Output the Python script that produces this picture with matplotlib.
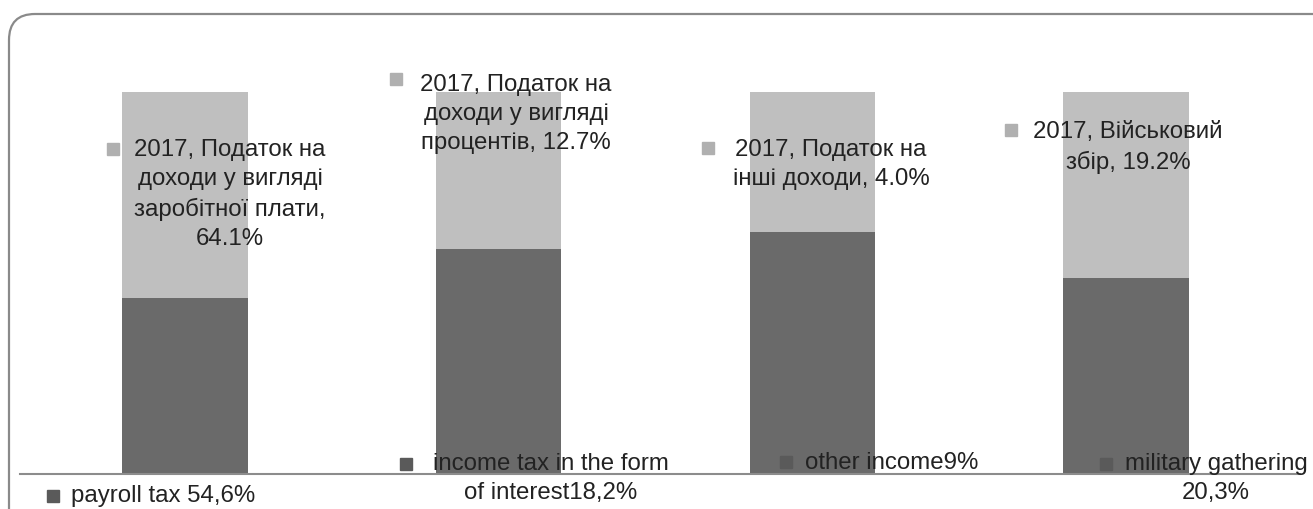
import matplotlib
matplotlib.use("Agg")
import matplotlib.pyplot as plt
from matplotlib.patches import FancyBboxPatch, Rectangle
from matplotlib.lines import Line2D

# values (share of each bar, 2017 vs category share)
categories = ["payroll", "interest", "other", "military"]
dark_values = [54.6, 18.2, 6.9, 20.3]
light_values = [64.1, 12.7, 4.0, 19.2]
light_labels = [
    "2017, Податок на\nдоходи у вигляді\nзаробітної плати,\n64.1%",
    "2017, Податок на\nдоходи у вигляді\nпроцентів, 12.7%",
    "2017, Податок на\nінші доходи, 4.0%",
    "2017, Військовий\nзбір, 19.2%",
]
dark_labels = [
    "payroll tax 54,6%",
    "income tax in the form\nof interest18,2%",
    "other income9%",
    "military gathering\n20,3%",
]

W, H = 1313, 509
DARK = "#6a6a6a"
LIGHT = "#bfbfbf"
FONT = ["Liberation Sans", "DejaVu Sans"]


def px(x, y):
    return x / W, 1 - y / H


fig = plt.figure(figsize=(W / 100, H / 100), dpi=100)

# rounded chart border running off the right and bottom edges (pixel coords)
border = FancyBboxPatch((9, -60), 1500, H - 14 + 60,
                        boxstyle="round,pad=0,rounding_size=26",
                        transform=None, fill=False,
                        edgecolor="#8a8a8a", linewidth=1.6)
fig.patches.append(border)

ax = fig.add_axes([28 / W, (H - 474) / H, 1255 / W, 382 / H])
totals = [d + l for d, l in zip(dark_values, light_values)]
dark_share = [d / t for d, t in zip(dark_values, totals)]
light_share = [l / t for l, t in zip(light_values, totals)]
x = range(len(categories))
ax.bar(x, dark_share, 0.4, color=DARK, zorder=2)
ax.bar(x, light_share, 0.4, bottom=dark_share, color=LIGHT, zorder=2)
ax.set_xlim(-0.5, len(categories) - 0.5)
ax.set_ylim(0, 1)
ax.axis("off")

fig.lines.append(Line2D([20 / W, 1300 / W], [1 - 474 / H] * 2,
                        color="#8c8c8c", linewidth=1.5, transform=fig.transFigure))

# label layout: (text center x, first line center y, marker x, marker y)
light_pos = [(230, 150, 107, 149), (516, 85, 390, 79), (831, 150, 702, 148), (1128, 132, 1005, 130)]
dark_pos = [(163, 496, 47, 496), (551, 464, 400, 464), (892, 463, 780, 462), (1216, 464, 1100, 464)]


def label(text, pos, mcolor):
    cx, cy, mx, my = pos
    fig.text(*px(cx, cy - 11), text, ha="center", va="top", multialignment="center",
             fontsize=17.3, family=FONT, color="#222222", linespacing=1.42)
    fig.patches.append(Rectangle(px(mx, my + 6), 12 / W, 12 / H, color=mcolor,
                                 transform=fig.transFigure))


for t, p in zip(light_labels, light_pos):
    label(t, p, "#b0b0b0")
for t, p in zip(dark_labels, dark_pos):
    label(t, p, "#5a5a5a")

plt.savefig("out.png", dpi=100)
plt.close()
